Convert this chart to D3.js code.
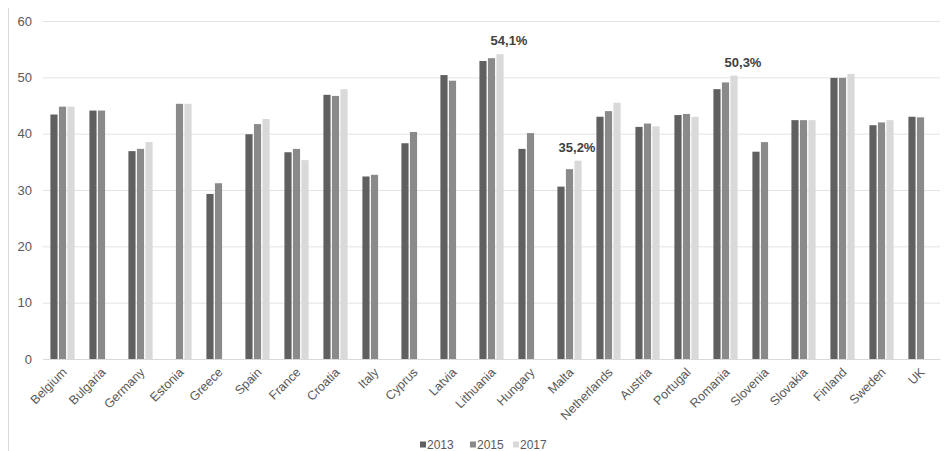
<!DOCTYPE html>
<html>
<head>
<meta charset="utf-8">
<script src="https://cdn.jsdelivr.net/npm/d3@7"></script>
<style>
  body { margin: 0; background: #fff; }
  svg { display: block; font-family: "Liberation Sans", Arial, sans-serif; }
</style>
</head>
<body>
<svg id="chart"></svg>
<script>
const countries = ["Belgium", "Bulgaria", "Germany", "Estonia", "Greece", "Spain", "France", "Croatia",
  "Italy", "Cyprus", "Latvia", "Lithuania", "Hungary", "Malta", "Netherlands", "Austria", "Portugal",
  "Romania", "Slovenia", "Slovakia", "Finland", "Sweden", "UK"];

const years = ["2013", "2015", "2017"];

// null = no bar in the source
const values2013 = [43.4, 44.1, 36.9, null, 29.3, 39.9, 36.7, 46.9, 32.4, 38.3, 50.4, 52.9, 37.3,
  30.6, 43.0, 41.2, 43.3, 47.9, 36.8, 42.4, 49.9, 41.5, 43.0];
const values2015 = [44.8, 44.1, 37.3, 45.3, 31.2, 41.7, 37.3, 46.7, 32.7, 40.3, 49.4, 53.4, 40.1,
  33.7, 44.0, 41.8, 43.5, 49.1, 38.5, 42.4, 49.9, 42.0, 42.9];
const values2017 = [44.8, null, 38.5, 45.3, null, 42.6, 35.3, 47.9, null, null, null, 54.1, null,
  35.2, 45.5, 41.3, 43.0, 50.3, null, 42.4, 50.6, 42.4, null];

const yTicks = [0, 10, 20, 30, 40, 50, 60];

const labelCountries = ["Lithuania", "Malta", "Romania"];
const labelTexts = ["54,1%", "35,2%", "50,3%"];

const colors = {"2013": "#606060", "2015": "#8a8a8a", "2017": "#d9d9d9"};

const width = 944, height = 451;
const margin = {top: 21, right: 4, bottom: 92, left: 43};

const seriesVals = {"2013": values2013, "2015": values2015, "2017": values2017};
const rows = countries.map((c, i) => ({country: c, vals: years.map(y => ({year: y, value: seriesVals[y][i]}))}));

const svg = d3.select("#chart").attr("width", width).attr("height", height);

// outer frame line on the left
svg.append("line")
  .attr("x1", 8.5).attr("x2", 8.5).attr("y1", 8).attr("y2", height)
  .attr("stroke", "#d9d9d9");

const x0 = d3.scaleBand()
  .domain(countries)
  .range([margin.left, width - margin.right])
  .paddingInner(0.38)
  .paddingOuter(0.19);

const x1 = d3.scaleBand()
  .domain(years)
  .range([0, x0.bandwidth()])
  .paddingInner(0.16);

const y = d3.scaleLinear()
  .domain([0, 60])
  .range([height - margin.bottom, margin.top]);

// gridlines + y labels
const yAxis = svg.append("g")
  .attr("transform", `translate(${margin.left},0)`)
  .call(d3.axisLeft(y).tickValues(yTicks).tickSize(-(width - margin.right - margin.left)).tickPadding(11));
yAxis.select(".domain").remove();
yAxis.selectAll(".tick line").attr("stroke", "#e3e3e3");
yAxis.selectAll(".tick text").attr("fill", "#595959").style("font-size", "13px");

// bars
const group = svg.append("g")
  .selectAll("g")
  .data(rows)
  .join("g")
  .attr("transform", d => `translate(${x0(d.country)},0)`);

group.selectAll("rect")
  .data(d => d.vals.filter(v => v.value != null))
  .join("rect")
  .attr("x", d => x1(d.year))
  .attr("width", x1.bandwidth())
  .attr("y", d => y(d.value))
  .attr("height", d => y(0) - y(d.value))
  .attr("fill", d => colors[d.year]);

// baseline + x labels
const xAxis = svg.append("g")
  .attr("transform", `translate(0,${y(0)})`)
  .call(d3.axisBottom(x0).tickSize(0).tickPadding(0));
xAxis.select(".domain").attr("stroke", "#d9d9d9");
xAxis.selectAll(".tick text")
  .attr("fill", "#595959")
  .style("font-size", "12.5px")
  .attr("text-anchor", "end")
  .attr("dy", null)
  .attr("transform", "translate(5,14) rotate(-45)");

// value labels over the 2017 bar
const labelShift = {"Lithuania": 9, "Malta": -1, "Romania": 9};
svg.append("g")
  .selectAll("text")
  .data(labelCountries)
  .join("text")
  .attr("x", (c, i) => x0(c) + x1("2017") + x1.bandwidth() / 2 + labelShift[c])
  .attr("y", c => y(values2017[countries.indexOf(c)]) - 9)
  .attr("text-anchor", "middle")
  .attr("fill", "#404040")
  .style("font-size", "13px")
  .style("font-weight", "bold")
  .text((c, i) => labelTexts[i]);

// legend
const legendX = [420, 470, 513];
const legend = svg.append("g")
  .selectAll("g")
  .data(years)
  .join("g")
  .attr("transform", (d, i) => `translate(${legendX[i]},444)`);
legend.append("rect")
  .attr("x", 0).attr("y", -2.5)
  .attr("width", 6).attr("height", 6)
  .attr("fill", d => colors[d]);
legend.append("text")
  .attr("x", 7).attr("y", 4.5)
  .attr("fill", "#595959")
  .style("font-size", "12px")
  .text(d => d);
</script>
</body>
</html>
